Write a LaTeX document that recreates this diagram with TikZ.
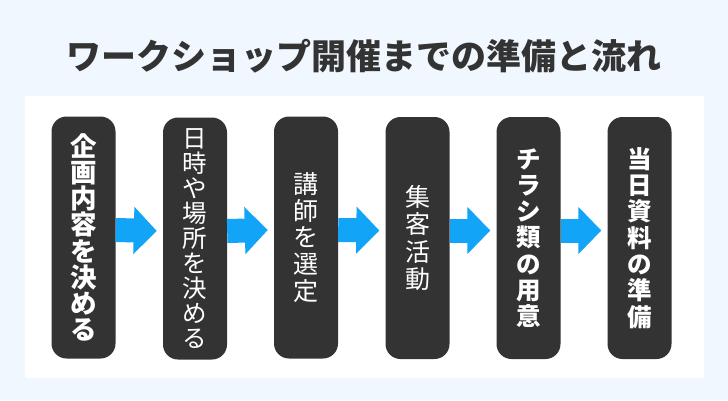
\documentclass[tikz,border=0pt]{standalone}
\usepackage{fontspec}
\newfontfamily\jp{Noto Sans CJK JP}
\usetikzlibrary{arrows.meta}
\definecolor{bgc}{RGB}{240,247,255}
\definecolor{boxc}{RGB}{51,51,51}
\definecolor{arrc}{RGB}{18,165,247}
\tikzset{
  stepbox/.style={fill=boxc, rounded corners=15pt, minimum width=64pt, minimum height=242pt, inner sep=0pt, text=white, align=center},
  flow/.style={draw=arrc, line width=24pt, -{Triangle[width=46pt,length=23pt]}},
}
\begin{document}
\begin{tikzpicture}[x=1pt,y=-1pt]
\useasboundingbox (0,0) rectangle (728,400);
\fill[bgc] (0,0) rectangle (728,400);
\fill[white] (25,96) rectangle (704,378);
\node[text=boxc, font=\jp\bfseries\fontsize{35pt}{38pt}\selectfont] (title) at (364,56) {ワークショップ開催までの準備と流れ};
\node[stepbox, font=\jp\bfseries\fontsize{26.5pt}{26.2pt}\selectfont] (b1) at (83.5,237.5) {企\\画\\内\\容\\を\\決\\め\\る};
\node[stepbox, font=\jp\fontsize{24.5pt}{25pt}\selectfont] (b2) at (195,238.5) {日\\時\\や\\場\\所\\を\\決\\め\\る};
\node[stepbox, font=\jp\fontsize{25pt}{26.7pt}\selectfont] (b3) at (306,237.5) {講\\師\\を\\選\\定};
\node[stepbox, font=\jp\fontsize{25pt}{27.3pt}\selectfont] (b4) at (417.5,238) {集\\客\\活\\動};
\node[stepbox, font=\jp\bfseries\fontsize{24.5pt}{26.2pt}\selectfont] (b5) at (528.5,238) {チ\\ラ\\シ\\類\\の\\用\\意};
\node[stepbox, font=\jp\bfseries\fontsize{24.5pt}{26.3pt}\selectfont] (b6) at (639.5,238) {当\\日\\資\\料\\の\\準\\備};
\foreach \a/\b in {b1/b2,b2/b3,b3/b4,b4/b5,b5/b6}{
  \draw[flow] ([yshift=7.5pt]\a.east) -- ([xshift=-6pt,yshift=7.5pt]\b.west);
}
\end{tikzpicture}
\end{document}
